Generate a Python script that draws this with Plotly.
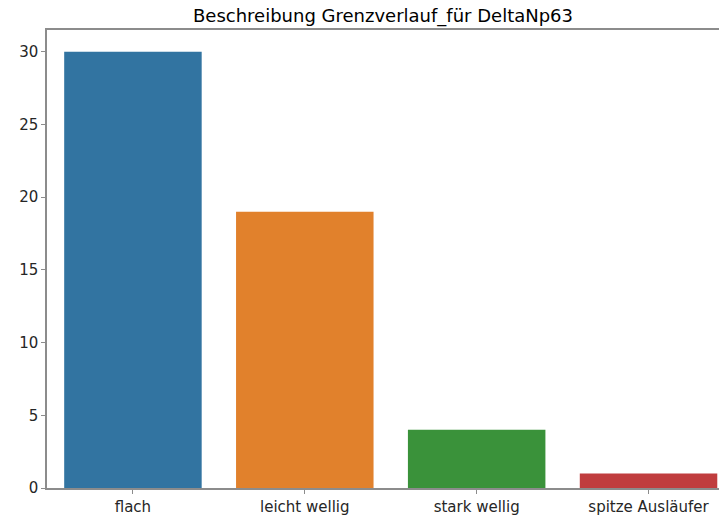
import plotly.graph_objects as go

categories = ["flach", "leicht wellig", "stark wellig", "spitze Ausläufer"]
counts = [30, 19, 4, 1]
colors = ["#3274a1", "#e1812c", "#3a923a", "#c03d3e"]
title = "Beschreibung Grenzverlauf_für DeltaNp63"

fig = go.Figure(go.Bar(
    x=list(range(len(categories))), y=counts,
    marker=dict(color=colors, line=dict(width=0)),
    width=0.8,
))

fig.update_layout(
    width=719, height=519,
    margin=dict(l=47, r=0, t=30, b=31),
    paper_bgcolor="white", plot_bgcolor="white",
    font=dict(family="DejaVu Sans", size=15, color="#262626"),
    title=dict(text=title, x=0.5, xref="paper", xanchor="center",
               y=1, yref="container", yanchor="top", pad=dict(t=9),
               font=dict(size=18, color="#000000")),
    showlegend=False,
)
fig.update_xaxes(
    range=[-0.5, 3.41], tickmode="array",
    tickvals=list(range(len(categories))), ticktext=categories,
    showline=True, linecolor="#8c8c8c", linewidth=1.5, mirror=True,
    ticks="outside", ticklen=4, tickcolor="#8c8c8c", showgrid=False, zeroline=False,
)
fig.update_yaxes(
    range=[0, 31.5], tickvals=[0, 5, 10, 15, 20, 25, 30],
    showline=True, linecolor="#8c8c8c", linewidth=1.5,
    ticks="outside", ticklen=4, tickcolor="#8c8c8c", showgrid=False, zeroline=False,
)

fig.write_html("out.html", config={"displayModeBar": False},
               post_script="document.body.style.margin='0';document.body.style.overflow='hidden';")
